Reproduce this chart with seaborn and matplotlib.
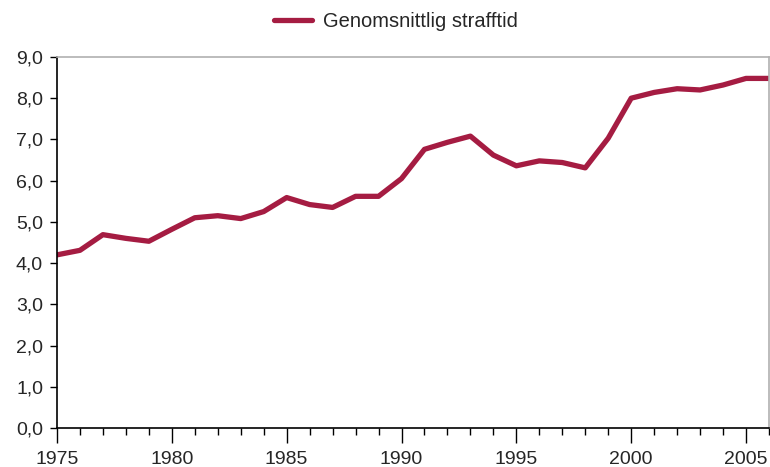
import numpy as np
import pandas as pd
import matplotlib.pyplot as plt
import seaborn as sns
from matplotlib.ticker import MultipleLocator, FuncFormatter

years = list(range(1975, 2007))
strafftid = [4.20, 4.31, 4.69, 4.60, 4.53, 4.82, 5.10, 5.15, 5.08, 5.25,
             5.59, 5.42, 5.35, 5.62, 5.62, 6.05, 6.76, 6.93, 7.08, 6.62,
             6.36, 6.48, 6.44, 6.31, 7.03, 8.00, 8.14, 8.23, 8.20, 8.32,
             8.48, 8.48]
label = "Genomsnittlig strafftid"

df = pd.DataFrame({"År": years, "Strafftid": strafftid, "Serie": label})

sns.set_style("white")
plt.rcParams["font.family"] = ["Liberation Sans", "DejaVu Sans"]

fig = plt.figure(figsize=(7.7, 4.67), dpi=100)
ax = fig.add_axes([0.074, 0.0835, 0.9247, 0.7945])

sns.lineplot(data=df, x="År", y="Strafftid", hue="Serie",
             palette=["#A51C42"], linewidth=3.8, ax=ax, legend=False)

ax.set_xlim(1975, 2006)
ax.set_ylim(0, 9)
ax.xaxis.set_major_locator(MultipleLocator(5))
ax.xaxis.set_minor_locator(MultipleLocator(1))
ax.yaxis.set_major_locator(MultipleLocator(1))
ax.yaxis.set_major_formatter(FuncFormatter(lambda v, p: f"{v:.1f}".replace(".", ",")))
ax.set_xlabel("")
ax.set_ylabel("")

ax.tick_params(axis="x", which="major", length=10.5, width=1, color="black",
               labelsize=14, pad=6, bottom=True)
ax.tick_params(axis="x", which="minor", length=5, width=1, color="black", bottom=True)
ax.tick_params(axis="y", which="major", length=5, width=1, color="black",
               labelsize=14, pad=5, left=True)

for s in ["left", "bottom"]:
    ax.spines[s].set_color("black")
    ax.spines[s].set_linewidth(1.2)
for s in ["top", "right"]:
    ax.spines[s].set_color("#b0b0b0")
    ax.spines[s].set_linewidth(1.2)

handle = plt.Line2D([], [], color="#A51C42", linewidth=3.8)
fig.legend([handle], [label], loc="center", bbox_to_anchor=(0.514, 0.953),
           frameon=False, fontsize=14.5, handlelength=1.9, handletextpad=0.55)

fig.savefig("out.png", dpi=100)
